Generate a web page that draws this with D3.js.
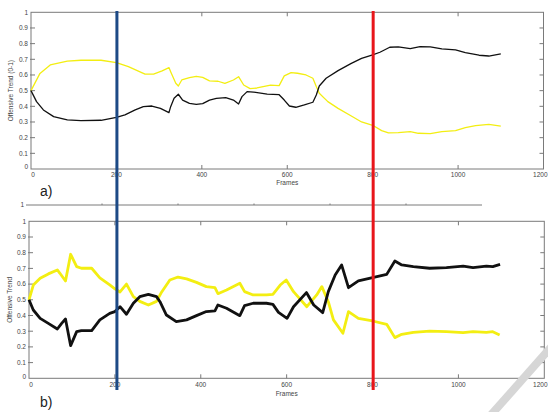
<!DOCTYPE html>
<html>
<head>
<meta charset="utf-8">
<script src="https://cdn.jsdelivr.net/npm/d3@7"></script>
<style>
  html, body { margin: 0; padding: 0; background: #fff; }
  svg { display: block; font-family: "Liberation Sans", Arial, sans-serif; }
</style>
</head>
<body>
<svg id="chart" width="548" height="412"></svg>
<script>
// Panel a) — smoothed offensive trend (0-1) per frame
const aYellowFrames = [0, 21, 45, 85, 117, 164, 200, 228, 267, 287, 307, 323, 327, 339, 345, 353, 371, 387, 402, 418, 438, 454, 474, 486, 498, 513, 529, 561, 581, 593, 609, 624, 644, 660, 668, 675, 695, 719, 750, 774, 800, 821, 837, 860, 888, 907, 935, 962, 994, 1017, 1041, 1072, 1100];
const aYellowValues = [0.50, 0.61, 0.664, 0.689, 0.694, 0.694, 0.679, 0.653, 0.606, 0.606, 0.626, 0.647, 0.621, 0.547, 0.530, 0.568, 0.583, 0.591, 0.585, 0.562, 0.560, 0.547, 0.568, 0.589, 0.536, 0.513, 0.517, 0.535, 0.532, 0.594, 0.615, 0.611, 0.600, 0.579, 0.526, 0.483, 0.430, 0.387, 0.338, 0.300, 0.279, 0.245, 0.230, 0.232, 0.238, 0.228, 0.226, 0.238, 0.245, 0.264, 0.277, 0.285, 0.274];
const aBlackFrames = [0, 13, 29, 53, 85, 117, 164, 200, 220, 244, 263, 283, 303, 323, 327, 335, 345, 355, 371, 387, 402, 418, 434, 456, 474, 486, 494, 506, 521, 553, 581, 593, 605, 620, 640, 660, 668, 675, 691, 719, 750, 774, 800, 817, 840, 860, 888, 911, 935, 962, 994, 1017, 1049, 1072, 1100];
const aBlackValues = [0.50, 0.43, 0.377, 0.334, 0.313, 0.309, 0.311, 0.330, 0.345, 0.377, 0.398, 0.402, 0.387, 0.360, 0.398, 0.451, 0.477, 0.440, 0.419, 0.413, 0.417, 0.440, 0.451, 0.455, 0.440, 0.415, 0.462, 0.494, 0.491, 0.478, 0.474, 0.440, 0.402, 0.394, 0.409, 0.426, 0.472, 0.530, 0.579, 0.628, 0.674, 0.706, 0.728, 0.745, 0.777, 0.779, 0.768, 0.781, 0.779, 0.766, 0.760, 0.743, 0.726, 0.721, 0.734];

// Panel b) — raw offensive trend per frame
const bYellowFrames = [0, 10, 26, 45, 66, 72, 85, 97, 111, 122, 146, 165, 188, 200, 212, 227, 243, 258, 278, 297, 309, 328, 347, 367, 390, 413, 433, 440, 460, 491, 502, 522, 553, 568, 585, 599, 616, 647, 670, 682, 697, 709, 731, 744, 767, 800, 833, 852, 868, 895, 933, 972, 1011, 1034, 1065, 1080, 1096];
const bYellowValues = [0.50, 0.594, 0.637, 0.665, 0.690, 0.669, 0.620, 0.790, 0.711, 0.701, 0.701, 0.640, 0.595, 0.570, 0.550, 0.600, 0.520, 0.490, 0.467, 0.490, 0.550, 0.626, 0.645, 0.633, 0.611, 0.584, 0.577, 0.539, 0.563, 0.605, 0.552, 0.531, 0.531, 0.535, 0.594, 0.626, 0.552, 0.456, 0.531, 0.584, 0.488, 0.372, 0.287, 0.425, 0.382, 0.365, 0.344, 0.259, 0.280, 0.293, 0.301, 0.297, 0.291, 0.297, 0.293, 0.297, 0.276];
const bBlackFrames = [0, 10, 26, 45, 66, 76, 85, 97, 111, 122, 146, 165, 188, 200, 212, 227, 243, 258, 278, 297, 305, 320, 343, 367, 390, 413, 433, 440, 460, 491, 502, 522, 553, 568, 581, 601, 616, 646, 663, 684, 697, 713, 728, 744, 767, 800, 833, 852, 868, 895, 933, 972, 1011, 1034, 1065, 1080, 1097];
const bBlackValues = [0.50, 0.435, 0.382, 0.350, 0.314, 0.350, 0.378, 0.208, 0.297, 0.304, 0.304, 0.372, 0.414, 0.425, 0.456, 0.408, 0.478, 0.520, 0.535, 0.520, 0.488, 0.403, 0.361, 0.372, 0.399, 0.425, 0.429, 0.467, 0.446, 0.399, 0.463, 0.478, 0.478, 0.471, 0.420, 0.382, 0.456, 0.546, 0.467, 0.418, 0.552, 0.658, 0.722, 0.577, 0.620, 0.641, 0.662, 0.747, 0.722, 0.711, 0.701, 0.705, 0.715, 0.705, 0.715, 0.711, 0.726];

// Axis ticks and labels
const xTicks = [0, 200, 400, 600, 800, 1000, 1200];
const yTicks = [0, 0.1, 0.2, 0.3, 0.4, 0.5, 0.6, 0.7, 0.8, 0.9, 1];
const markerFrames = [200, 800];
const markerColors = ["#1d4a86", "#e8161b"];
const panelLetters = ["a)", "b)"];
const yTitles = ["Offensive Trend (0-1)", "Offensive Trend"];
const xTitle = "Frames";

const svg = d3.select("#chart");
const gridGrey = "#7a7a7a";
const yellow = "#f3ee12";

const panels = [
  { x0: 31, x1: 543.5, yTop: 12.3, yBot: 169, lw: 1.3,
    yellow: [aYellowFrames, aYellowValues], black: [aBlackFrames, aBlackValues],
    letter: panelLetters[0], yTitle: yTitles[0], yTitleX: 13, xLabY: 177, titleY: 185, letterY: 196 },
  { x0: 29, x1: 544.3, yTop: 221.3, yBot: 378.3, lw: 2.8,
    yellow: [bYellowFrames, bYellowValues], black: [bBlackFrames, bBlackValues],
    letter: panelLetters[1], yTitle: yTitles[1], yTitleX: 12, xLabY: 387, titleY: 396, letterY: 407 }
];

function drawPanel(p) {
  const x = d3.scaleLinear().domain([0, 1200]).range([p.x0, p.x1]);
  const y = d3.scaleLinear().domain([0, 1]).range([p.yBot, p.yTop]);
  const g = svg.append("g");

  // box
  g.append("rect")
    .attr("x", p.x0).attr("y", p.yTop)
    .attr("width", p.x1 - p.x0).attr("height", p.yBot - p.yTop)
    .attr("fill", "none").attr("stroke", gridGrey).attr("stroke-width", 1);

  // inward ticks on all four sides
  const tl = 4;
  g.selectAll(".xtb").data(xTicks.slice(1, -1)).join("line")
    .attr("x1", d => x(d)).attr("x2", d => x(d))
    .attr("y1", p.yBot).attr("y2", p.yBot - tl)
    .attr("stroke", gridGrey);
  g.selectAll(".xtt").data(xTicks.slice(1, -1)).join("line")
    .attr("x1", d => x(d)).attr("x2", d => x(d))
    .attr("y1", p.yTop).attr("y2", p.yTop + tl)
    .attr("stroke", gridGrey);
  g.selectAll(".ytl").data(yTicks.slice(1, -1)).join("line")
    .attr("x1", p.x0 - 1).attr("x2", p.x0 + tl)
    .attr("y1", d => y(d)).attr("y2", d => y(d))
    .attr("stroke", gridGrey);
  g.selectAll(".ytr").data(yTicks.slice(1, -1)).join("line")
    .attr("x1", p.x1).attr("x2", p.x1 - tl)
    .attr("y1", d => y(d)).attr("y2", d => y(d))
    .attr("stroke", gridGrey);

  // tick labels (the last one is kept inside the page edge)
  const last = xTicks[xTicks.length - 1];
  g.selectAll(".xl").data(xTicks).join("text")
    .attr("x", d => d === 0 ? x(d) + 2 : (d === last ? 547.5 : x(d)))
    .attr("y", p.xLabY)
    .attr("text-anchor", d => d === last ? "end" : "middle")
    .attr("font-size", 6.5).attr("fill", "#444")
    .text(d => d);
  g.selectAll(".yl").data(yTicks).join("text")
    .attr("x", p.x0 - 3).attr("y", d => y(d) + 2.3 - (d === 0 ? 2 : 0))
    .attr("text-anchor", "end").attr("font-size", 6.5).attr("fill", "#444")
    .text(d => d3.format("")(d));

  // axis titles
  g.append("text")
    .attr("x", x(600)).attr("y", p.titleY)
    .attr("text-anchor", "middle").attr("font-size", 6.5).attr("fill", "#444")
    .text(xTitle);
  g.append("text")
    .attr("transform", `translate(${p.yTitleX},${(p.yTop + p.yBot) / 2}) rotate(-90)`)
    .attr("text-anchor", "middle").attr("font-size", 6.5).attr("fill", "#444")
    .text(p.yTitle);

  // panel letter
  g.append("text")
    .attr("x", 40).attr("y", p.letterY)
    .attr("font-size", 14).attr("fill", "#222")
    .text(p.letter);

  // series
  const line = d3.line().x(d => x(d[0])).y(d => y(d[1]));
  const pairs = s => s[0].map((f, i) => [f, s[1][i]]);
  g.append("path").datum(pairs(p.yellow))
    .attr("d", line).attr("fill", "none")
    .attr("stroke", yellow).attr("stroke-width", p.lw).attr("stroke-linejoin", "round");
  g.append("path").datum(pairs(p.black))
    .attr("d", line).attr("fill", "none")
    .attr("stroke", "#111").attr("stroke-width", p.lw).attr("stroke-linejoin", "round");
  return x;
}

const xa = drawPanel(panels[0]);
drawPanel(panels[1]);

// remnant axis line above panel b
const strip = d3.scaleLinear().domain([0, 6]).range([26, 482]);
svg.append("line")
  .attr("x1", strip(0)).attr("x2", strip(6)).attr("y1", 205).attr("y2", 205)
  .attr("stroke", gridGrey).attr("stroke-width", 1);
svg.selectAll(".st").data(d3.range(1, 6)).join("line")
  .attr("x1", d => strip(d)).attr("x2", d => strip(d))
  .attr("y1", 205).attr("y2", 203.5)
  .attr("stroke", gridGrey);
svg.append("text")
  .attr("x", 24).attr("y", 207).attr("text-anchor", "end")
  .attr("font-size", 6.5).attr("fill", "#444").text("1");

// frame markers spanning both panels
svg.selectAll(".marker").data(markerFrames).join("line")
  .attr("x1", d => xa(d) + 0.5).attr("x2", d => xa(d) + 0.5)
  .attr("y1", 11).attr("y2", 390)
  .attr("stroke", (d, i) => markerColors[i]).attr("stroke-width", 3);

// faint diagonal stroke in the lower-right corner
svg.append("line")
  .attr("x1", 552).attr("y1", 346).attr("x2", 490).attr("y2", 416)
  .attr("stroke", "#d6d6d6").attr("stroke-width", 8);
</script>
</body>
</html>
